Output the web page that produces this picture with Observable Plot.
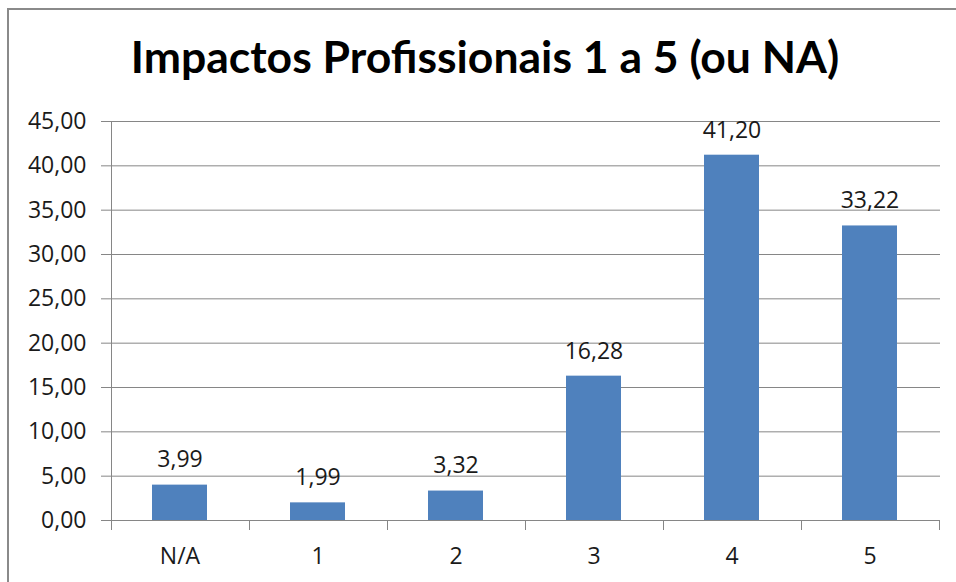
<!DOCTYPE html>
<html><head><meta charset="utf-8">
<script src="https://cdn.jsdelivr.net/npm/d3@7"></script>
<script src="https://cdn.jsdelivr.net/npm/@observablehq/plot@0.6"></script>
<style>
html,body{margin:0;padding:0;background:#fff;overflow:hidden}
#page{position:relative;width:956px;height:582px;overflow:hidden}
#border{position:absolute;left:7px;top:8px;width:1000px;height:1000px;border-left:2px solid #8a8a8a;border-top:2px solid #8a8a8a;box-sizing:border-box}
#title{position:relative;height:112px}
#title span{position:absolute;left:485px;top:34px;transform:translateX(-50%);font-family:Lato;font-weight:bold;font-size:44.5px;line-height:44.5px;white-space:nowrap;color:#000}
#chart{position:relative}
#chart svg, #chart svg text{font-family:"Open Sans" !important}
</style>
</head><body>
<div id="page">
<div id="border"></div>
<div id="title"><span>Impactos Profissionais 1 a 5 (ou NA)</span></div>
<div id="chart"></div>
</div>
<script>
const categories = ["N/A", "1", "2", "3", "4", "5"];
const values = [3.99, 1.99, 3.32, 16.28, 41.20, 33.22];
const yTicks = [0, 5, 10, 15, 20, 25, 30, 35, 40, 45];

const data = categories.map((c, i) => ({category: c, value: values[i]}));
const fmt = v => v.toFixed(2).replace(".", ",");

function axisLines(...args) {
  const scales = args.find(a => a && typeof a.x === "function" && typeof a.y === "function");
  const x = scales.x, y = scales.y;
  const step = x(categories[1]) - x(categories[0]);
  const bw = typeof x.bandwidth === "function" ? x.bandwidth() : (typeof x.bandwidth === "number" ? x.bandwidth : step * 0.4);
  const g = d3.create("svg:g").attr("stroke", "#868686").attr("stroke-width", 1);
  const y0 = y(0), yTop = y(yTicks[yTicks.length - 1]);
  const bounds = categories.map(c => x(c) + bw / 2 - step / 2);
  bounds.push(x(categories[categories.length - 1]) + bw / 2 + step / 2);
  g.append("line").attr("x1", Math.round(bounds[0]) + 0.5).attr("x2", Math.round(bounds[0]) + 0.5)
    .attr("y1", yTop).attr("y2", y0);
  for (const b of bounds) {
    const bx = Math.round(b) + 0.5;
    g.append("line").attr("x1", bx).attr("x2", bx).attr("y1", y0).attr("y2", y0 + 10);
  }
  return g.node();
}

const chart = Plot.plot({
  width: 956,
  height: 470,
  marginLeft: 110,
  marginRight: 16,
  marginTop: 9,
  marginBottom: 62,
  style: {fontFamily: "'Open Sans', sans-serif", fontSize: "23px", color: "#1a1a1a", background: "transparent", overflow: "visible"},
  x: {domain: categories, paddingInner: 0.6, paddingOuter: 0.3, label: null},
  y: {domain: [0, 45], label: null},
  marks: [
    Plot.gridY(yTicks, {stroke: "#868686", strokeOpacity: 1}),
    Plot.axisY(yTicks, {tickFormat: fmt, tickSize: 9, tickPadding: 15, stroke: "#868686", label: null, fontSize: 23}),
    Plot.barY(data, {x: "category", y: "value", fill: "#4F81BD"}),
    Plot.ruleY([0], {stroke: "#868686"}),
    axisLines,
    Plot.axisX({tickSize: 0, tickPadding: 27, label: null, fontSize: 23}),
    Plot.text(data, {x: "category", y: "value", text: d => fmt(d.value), dy: -25, fontSize: 23, fill: "#1a1a1a"})
  ]
});
document.getElementById("chart").appendChild(chart);
</script>
</body></html>
